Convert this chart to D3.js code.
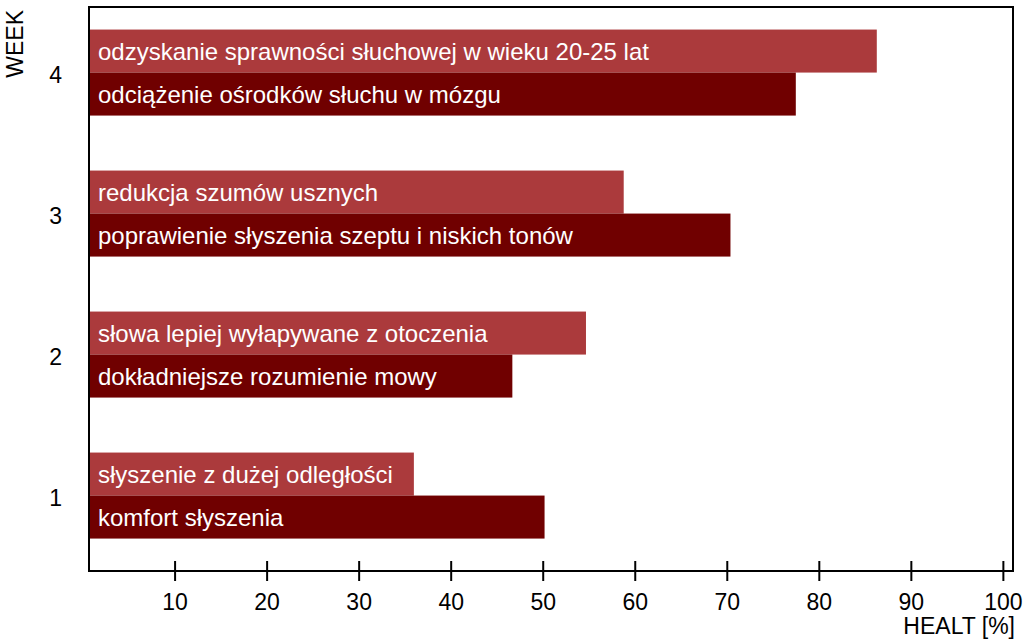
<!DOCTYPE html>
<html>
<head>
<meta charset="utf-8">
<script src="https://cdn.jsdelivr.net/npm/d3@7"></script>
<style>
  body { margin: 0; background: #fff; }
  text { font-family: "Liberation Sans", Arial, sans-serif; }
</style>
</head>
<body>
<svg></svg>
<script>
let weeks = ["1", "2", "3", "4"]

// upper (light) bar of each week
let upperValues = [36.0, 54.7, 58.8, 86.3]
let upperLabels = [
    "słyszenie z dużej odległości",
    "słowa lepiej wyłapywane z otoczenia",
    "redukcja szumów usznych",
    "odzyskanie sprawności słuchowej w wieku 20-25 lat"
]

// lower (dark) bar of each week
let lowerValues = [50.2, 46.7, 70.4, 77.5]
let lowerLabels = [
    "komfort słyszenia",
    "dokładniejsze rozumienie mowy",
    "poprawienie słyszenia szeptu i niskich tonów",
    "odciążenie ośrodków słuchu w mózgu"
]

let xTicks = [10, 20, 30, 40, 50, 60, 70, 80, 90, 100]

var width = 1024, height = 640
var margin = {top: 7, right: 11, bottom: 69, left: 89}
var graphWidth = width - margin.left - margin.right
var graphHeight = height - margin.top - margin.bottom

var svg = d3.select("svg")
    .attr("width", width)
    .attr("height", height)

var mainCanvas = svg.append("g")
    .attr("transform", `translate(${margin.left}, ${margin.top})`)

let scX = d3.scaleLinear()
    .domain([0.7, 101.1])
    .range([0, graphWidth])

let scY = d3.scaleBand()
    .domain(weeks.slice().reverse())
    .range([0, graphHeight])

let barH = scY.bandwidth() * 0.305
let groupOffset = scY.bandwidth() * 0.16

let rows = weeks.map((w, i) => ({
    week: w,
    upper: upperValues[i], upperLabel: upperLabels[i],
    lower: lowerValues[i], lowerLabel: lowerLabels[i]
}))

let group = mainCanvas.selectAll(".week")
    .data(rows).enter().append("g")
    .attr("class", "week")
    .attr("transform", d => `translate(0, ${scY(d.week) + groupOffset})`)

group.append("rect")
    .attr("x", 0)
    .attr("y", 0)
    .attr("width", d => scX(d.upper))
    .attr("height", barH)
    .attr("fill", "#ab3a3c")

group.append("rect")
    .attr("x", 0)
    .attr("y", barH)
    .attr("width", d => scX(d.lower))
    .attr("height", barH)
    .attr("fill", "#700000")

group.append("text")
    .attr("x", 9)
    .attr("y", barH / 2)
    .attr("dy", "0.36em")
    .attr("fill", "#fff")
    .attr("font-size", 24)
    .text(d => d.upperLabel)

group.append("text")
    .attr("x", 9)
    .attr("y", barH * 1.5)
    .attr("dy", "0.36em")
    .attr("fill", "#fff")
    .attr("font-size", 24)
    .text(d => d.lowerLabel)

// frame
mainCanvas.append("rect")
    .attr("width", graphWidth)
    .attr("height", graphHeight)
    .attr("fill", "none")
    .attr("stroke", "#000")
    .attr("stroke-width", 2)

let xAxis = d3.axisBottom(scX)
    .tickValues(xTicks)
    .tickSizeInner(10)
    .tickSizeOuter(0)
    .tickPadding(13)

let gx = mainCanvas.append("g")
    .attr("transform", `translate(0, ${graphHeight})`)
    .call(xAxis)
gx.select(".domain").remove()
gx.selectAll(".tick line")
    .attr("y1", -10)
    .attr("y2", 10)
    .attr("stroke-width", 2)
gx.selectAll(".tick text")
    .attr("font-size", 23)
    .attr("font-family", "Liberation Sans, Arial, sans-serif")
    .attr("fill", "#000")

let yAxis = d3.axisLeft(scY)
    .tickSize(0)
    .tickPadding(27)

let gy = mainCanvas.append("g")
    .call(yAxis)
gy.select(".domain").remove()
gy.selectAll(".tick text")
    .attr("font-size", 23)
    .attr("font-family", "Liberation Sans, Arial, sans-serif")
    .attr("fill", "#000")
    .attr("dy", "0.26em")

// axis titles
svg.append("text")
    .attr("transform", "translate(23, 10) rotate(-90)")
    .attr("text-anchor", "end")
    .attr("font-size", 23)
    .text("WEEK")

svg.append("text")
    .attr("x", 1015)
    .attr("y", 634)
    .attr("text-anchor", "end")
    .attr("font-size", 23)
    .text("HEALT [%]")
</script>
</body>
</html>
